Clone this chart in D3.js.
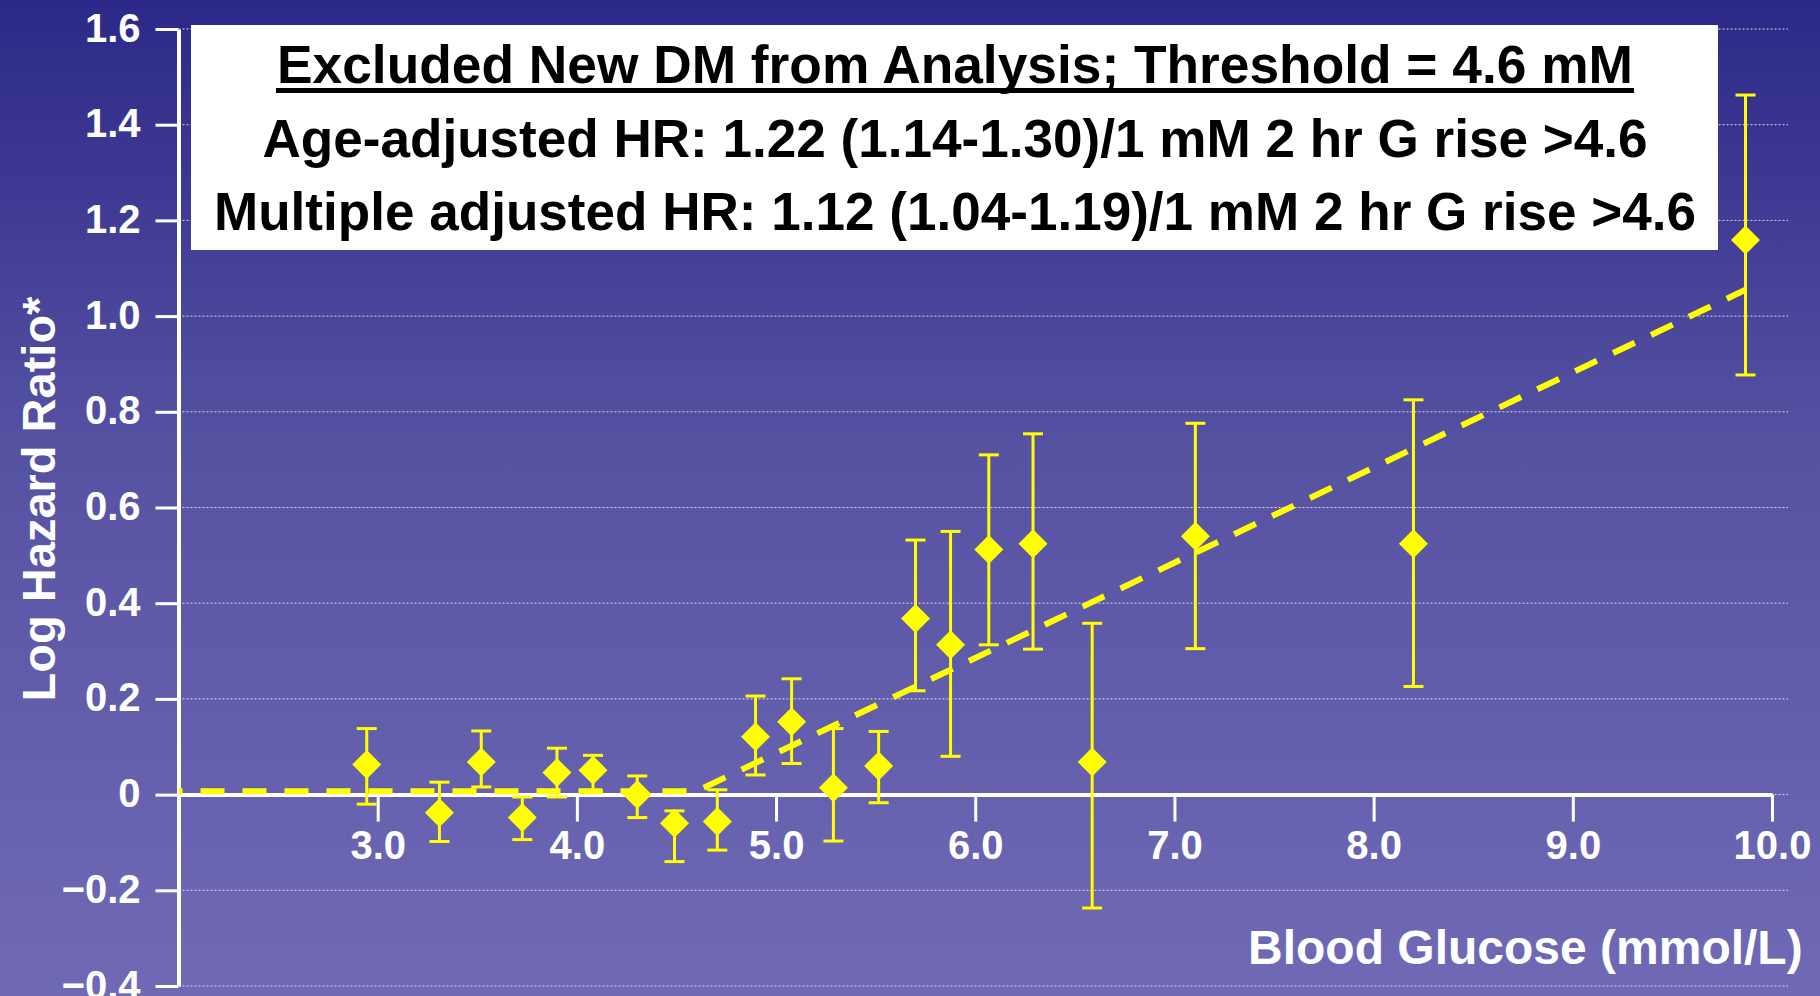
<!DOCTYPE html>
<html>
<head>
<meta charset="utf-8">
<script src="https://cdn.jsdelivr.net/npm/d3@7"></script>
<style>
  body { margin: 0; padding: 0; overflow: hidden; }
  svg { display: block; font-family: "Liberation Sans", Arial, Helvetica, sans-serif; font-weight: bold; }
</style>
</head>
<body>
<div id="chart"></div>
<script>
// data
const glucose = [2.945, 3.31, 3.52, 3.726, 3.90, 4.081, 4.303, 4.49, 4.705, 4.897, 5.078,
                 5.288, 5.515, 5.70, 5.876, 6.068, 6.29, 6.587, 7.105, 8.20, 9.867];
const logHR   = [0.063, -0.038, 0.068, -0.048, 0.046, 0.051, 0.0, -0.06, -0.056, 0.121, 0.152,
                 0.0145, 0.06, 0.368, 0.313, 0.512, 0.524, 0.068, 0.54, 0.524, 1.159];
const ciLow   = [-0.02, -0.098, 0.016, -0.094, -0.005, 0.007, -0.048, -0.14, -0.116, 0.041, 0.065,
                 -0.097, -0.017, 0.217, 0.08, 0.313, 0.304, -0.237, 0.305, 0.226, 0.877];
const ciHigh  = [0.138, 0.026, 0.133, -0.005, 0.097, 0.082, 0.039, -0.034, 0.01, 0.206, 0.242,
                 0.138, 0.132, 0.532, 0.55, 0.71, 0.754, 0.358, 0.776, 0.825, 1.462];

// hinge fit line (threshold 4.6 mM)
const fitX = [2.0, 4.6, 9.867];
const fitY = [0.007, 0.007, 1.055];

const xTicks = [3, 4, 5, 6, 7, 8, 9, 10];
const yTicks = [-0.4, -0.2, 0, 0.2, 0.4, 0.6, 0.8, 1.0, 1.2, 1.4, 1.6];

const boxLines = [
  "Excluded New DM from Analysis; Threshold = 4.6 mM",
  "Age-adjusted HR: 1.22 (1.14-1.30)/1 mM 2 hr G rise >4.6",
  "Multiple adjusted HR: 1.12 (1.04-1.19)/1 mM 2 hr G rise >4.6"
];

const W = 1820, H = 996;

const svg = d3.select("#chart")
  .append("svg")
  .attr("width", W)
  .attr("height", H);

// background gradient
const grad = svg.append("defs").append("linearGradient")
  .attr("id", "bg")
  .attr("x1", 0).attr("y1", 0).attr("x2", 0).attr("y2", 1);
grad.append("stop").attr("offset", "0%").attr("stop-color", "#2c2888");
grad.append("stop").attr("offset", "45%").attr("stop-color", "#5652a2");
grad.append("stop").attr("offset", "100%").attr("stop-color", "#706ab6");

svg.append("rect")
  .attr("width", W).attr("height", H)
  .attr("fill", "url(#bg)");

const x = d3.scaleLinear()
  .domain([2, 10])
  .range([178.5, 1772]);

const y = d3.scaleLinear()
  .domain([-0.4, 1.6])
  .range([986, 29]);

// dotted gridlines
svg.append("g")
  .selectAll("line")
  .data(yTicks)
  .join("line")
  .attr("x1", x(2))
  .attr("x2", 1788)
  .attr("y1", (d) => y(d))
  .attr("y2", (d) => y(d))
  .attr("stroke", "#ffffff")
  .attr("stroke-opacity", 0.8)
  .attr("stroke-width", 1)
  .attr("stroke-dasharray", "2,2");

// text box
svg.append("rect")
  .attr("x", 191).attr("y", 25)
  .attr("width", 1527).attr("height", 225)
  .attr("fill", "#ffffff");

const lineLengths = [1356, 1385, 1482];
const baselines = [83, 157, 230];
svg.append("g")
  .selectAll("text")
  .data(boxLines)
  .join("text")
  .attr("x", 955)
  .attr("y", (d, i) => baselines[i])
  .attr("text-anchor", "middle")
  .attr("font-size", 53)
  .attr("fill", "#000")
  .attr("textLength", (d, i) => lineLengths[i])
  .attr("lengthAdjust", "spacingAndGlyphs")
  .text((d) => d);

// underline of the first line
svg.append("rect")
  .attr("x", 276).attr("y", 88)
  .attr("width", 1358).attr("height", 5)
  .attr("fill", "#000");

// y axis
const yAxis = svg.append("g")
  .attr("transform", "translate(" + x(2) + ",0)")
  .call(d3.axisLeft(y)
    .tickValues(yTicks)
    .tickSize(23)
    .tickSizeOuter(0)
    .tickFormat((d) => d === 0 ? "0" : d3.format(".1f")(d).replace("-", "\u2013")));

yAxis.select(".domain")
  .attr("stroke", "#fff")
  .attr("stroke-width", 4);
yAxis.selectAll(".tick line")
  .attr("stroke", "#fff")
  .attr("stroke-width", 3);
yAxis.selectAll(".tick text")
  .attr("x", -38)
  .attr("dy", null)
  .attr("y", 12)
  .attr("fill", "#fff")
  .attr("font-size", 40)
  .attr("font-family", null);

// x axis
const xAxis = svg.append("g")
  .attr("transform", "translate(0," + y(0) + ")")
  .call(d3.axisBottom(x)
    .tickValues(xTicks)
    .tickSize(27)
    .tickSizeOuter(0)
    .tickFormat(d3.format(".1f")));

xAxis.select(".domain")
  .attr("stroke", "#fff")
  .attr("stroke-width", 4);
xAxis.selectAll(".tick line")
  .attr("stroke", "#fff")
  .attr("stroke-width", 3);
xAxis.selectAll(".tick text")
  .attr("dy", null)
  .attr("y", 64)
  .attr("fill", "#fff")
  .attr("font-size", 40)
  .attr("font-family", null);

// axis titles
svg.append("text")
  .attr("x", 1248)
  .attr("y", 964)
  .attr("fill", "#fff")
  .attr("font-size", 48)
  .text("Blood Glucose (mmol/L)");

svg.append("text")
  .attr("transform", "translate(55,499)rotate(-90)")
  .attr("text-anchor", "middle")
  .attr("fill", "#fff")
  .attr("font-size", 47)
  .text("Log Hazard Ratio*");

// fitted dashed line
const fit = fitX.map((d, i) => ({ g: d, v: fitY[i] }));
svg.append("path")
  .datum(fit)
  .attr("fill", "none")
  .attr("stroke", "#ffff00")
  .attr("stroke-width", 6)
  .attr("stroke-dasharray", "24,18")
  .attr("stroke-dashoffset", 20)
  .attr("d", d3.line().x((d) => x(d.g)).y((d) => y(d.v)));

// error bars
const pts = glucose.map((g, i) => ({ g: g, v: logHR[i], lo: ciLow[i], hi: ciHigh[i] }));
const bars = svg.append("g")
  .attr("stroke", "#ffff00")
  .attr("stroke-width", 3);

bars.selectAll(".stem")
  .data(pts)
  .join("line")
  .attr("class", "stem")
  .attr("x1", (d) => x(d.g)).attr("x2", (d) => x(d.g))
  .attr("y1", (d) => y(d.lo)).attr("y2", (d) => y(d.hi));

bars.selectAll(".capHi")
  .data(pts)
  .join("line")
  .attr("class", "capHi")
  .attr("x1", (d) => x(d.g) - 10).attr("x2", (d) => x(d.g) + 10)
  .attr("y1", (d) => y(d.hi)).attr("y2", (d) => y(d.hi));

bars.selectAll(".capLo")
  .data(pts)
  .join("line")
  .attr("class", "capLo")
  .attr("x1", (d) => x(d.g) - 10).attr("x2", (d) => x(d.g) + 10)
  .attr("y1", (d) => y(d.lo)).attr("y2", (d) => y(d.lo));

// diamonds
const diamond = "M0,-14.5L14.5,0L0,14.5L-14.5,0Z";
svg.append("g")
  .selectAll("path")
  .data(pts)
  .join("path")
  .attr("d", diamond)
  .attr("transform", (d) => "translate(" + x(d.g) + "," + y(d.v) + ")")
  .attr("fill", "#ffff00");
</script>
</body>
</html>
